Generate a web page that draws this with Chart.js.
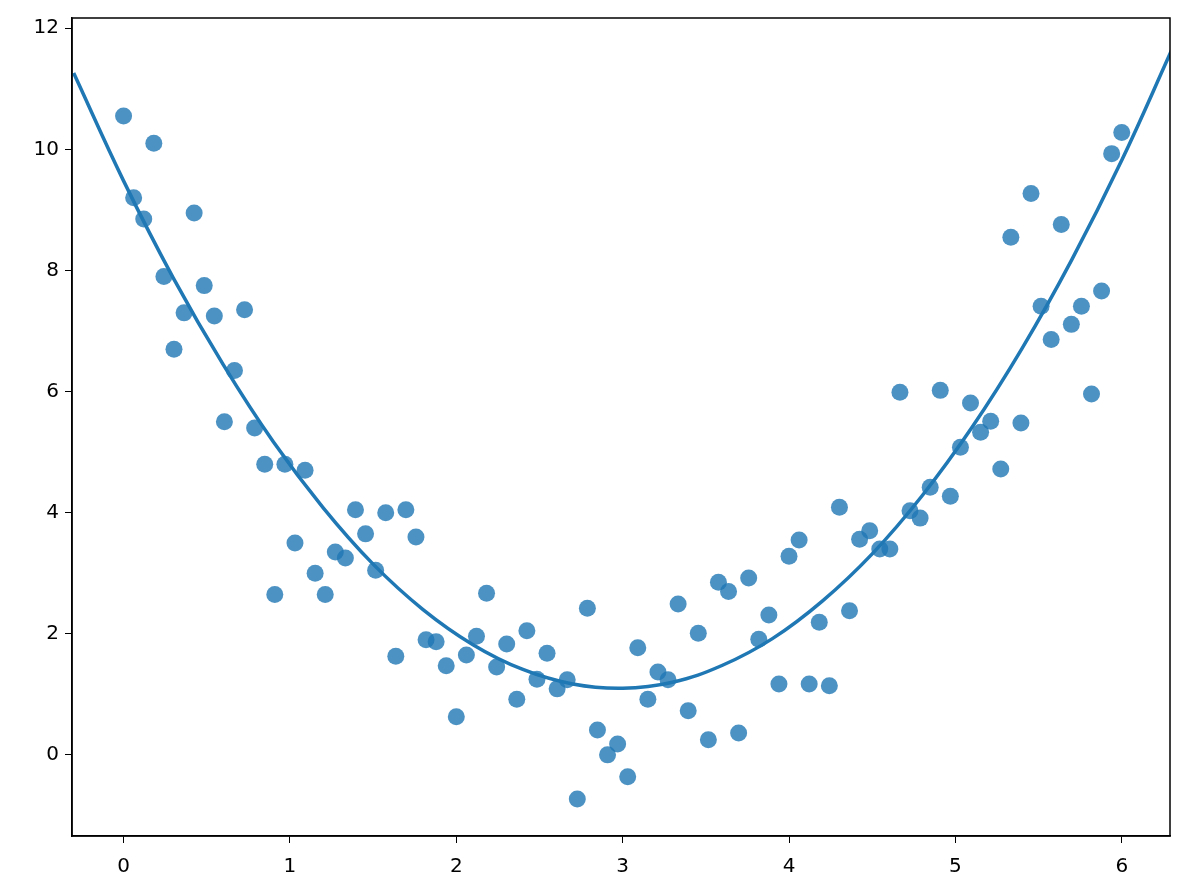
<!DOCTYPE html>
<html><head><meta charset="utf-8">
<script src="https://cdn.jsdelivr.net/npm/chart.js@4"></script>
<style>html,body{margin:0;padding:0;background:#fff}#wrap{width:1184px;height:896px}</style>
</head><body><div id="wrap"><canvas id="c"></canvas></div>
<script>
const pointX = [];
for (let i = 0; i < 100; i++) pointX.push(i * 6 / 99);
const pointY = [10.55,9.2,8.85,10.1,7.9,6.7,7.3,8.95,7.75,7.25,5.5,6.35,7.35,5.4,4.8,2.65,4.8,3.5,4.7,3.0,
2.65,3.35,3.25,4.05,3.65,3.05,4.0,1.63,4.05,3.6,1.9,1.87,1.47,0.63,1.65,1.96,2.67,1.45,1.83,0.92,
2.05,1.25,1.68,1.09,1.24,-0.73,2.42,0.41,0.0,0.18,-0.36,1.77,0.92,1.37,1.24,2.49,0.73,2.01,0.25,2.85,
2.7,0.36,2.92,1.91,2.31,1.17,3.28,3.55,1.17,2.19,1.14,4.09,2.38,3.56,3.7,3.4,3.4,5.99,4.03,3.91,
4.42,6.02,4.27,5.08,5.81,5.33,5.51,4.72,8.55,5.48,9.27,7.41,6.86,8.76,7.11,7.41,5.96,7.66,9.93,10.28];
const fitX = [-0.3,0,0.3,0.6,0.9,1.2,1.5,1.8,2.1,2.4,2.7,3.0,3.3,3.6,3.9,4.2,4.5,4.8,5.1,5.4,5.7,6.0,6.3];
const fitY = [11.26,9.48,7.87,6.44,5.17,4.08,3.15,2.40,1.82,1.41,1.17,1.10,1.20,1.48,1.92,2.54,3.32,4.28,5.41,6.71,8.18,9.82,11.64];
const xTicks = [0,1,2,3,4,5,6];
const yTicks = [0,2,4,6,8,10,12];

const frame = {id:'frame', afterDatasetsDraw(ch){const a=ch.chartArea,c=ch.ctx;c.save();c.strokeStyle='#000';c.lineWidth=1.5;c.strokeRect(a.left,a.top,a.right-a.left,a.bottom-a.top);c.restore();}};
const font = {family:'DejaVu Sans', size:20};
new Chart(document.getElementById('c'), {
  type:'scatter',
  data:{datasets:[
    {data:pointX.map((x,i)=>({x, y:pointY[i]})), backgroundColor:'rgba(31,119,180,0.8)', borderWidth:0, pointRadius:8.5, order:2},
    {type:'line', data:fitX.map((x,i)=>({x, y:fitY[i]})), borderColor:'#1f77b4', borderWidth:3.5, pointRadius:0, tension:0.4, fill:false, order:1}
  ]},
  options:{
    responsive:true, maintainAspectRatio:false, animation:false,
    layout:{padding:{left:0,right:14,top:18,bottom:0}},
    plugins:{legend:{display:false}, tooltip:{enabled:false}},
    scales:{
      x:{type:'linear', min:-0.31, max:6.29,
        afterBuildTicks(s){s.ticks=xTicks.map(v=>({value:v}));},
        afterFit(s){s.height=60;},
        ticks:{font, color:'#000', padding:12},
        grid:{drawOnChartArea:false, drawTicks:true, tickLength:7, color:'#000'},
        border:{color:'#000', width:1.5}},
      y:{type:'linear', min:-1.34, max:12.17,
        afterBuildTicks(s){s.ticks=yTicks.map(v=>({value:v}));},
        afterFit(s){s.width=72;},
        ticks:{font, color:'#000', padding:6},
        grid:{drawOnChartArea:false, drawTicks:true, tickLength:7, color:'#000'},
        border:{color:'#000', width:1.5}}
    }
  },
  plugins:[frame]
});
</script></body></html>
